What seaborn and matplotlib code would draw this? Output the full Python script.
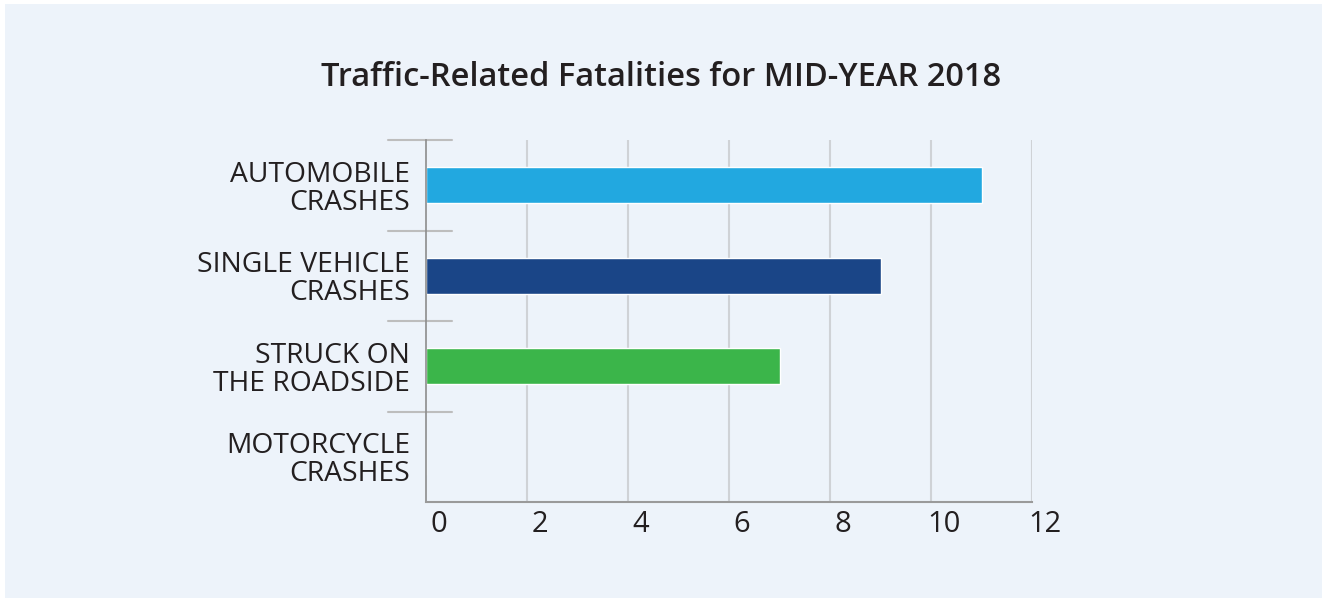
import matplotlib
matplotlib.use("Agg")
import matplotlib.pyplot as plt
import matplotlib.transforms as mtransforms
from matplotlib.patches import Rectangle
import seaborn as sns
import pandas as pd

categories = ["AUTOMOBILE\nCRASHES", "SINGLE VEHICLE\nCRASHES", "STRUCK ON\nTHE ROADSIDE", "MOTORCYCLE\nCRASHES"]
values = [11, 9, 7, 0]
colors = ["#22A8E0", "#1A4587", "#3BB54A", "#F7941D"]
x_ticks = [0, 2, 4, 6, 8, 10, 12]
title = "Traffic-Related Fatalities for MID-YEAR 2018"

sns.set_theme(style="white")
plt.rcParams["font.family"] = ["Open Sans", "DejaVu Sans"]

BG = "#EDF3FA"
W, H = 1322, 602
fig = plt.figure(figsize=(W / 100, H / 100), dpi=100, facecolor="white")
fig.patches.append(Rectangle((5 / W, 4 / H), 1 - 5 / W, 1 - 8 / H, transform=fig.transFigure,
                             facecolor=BG, edgecolor="none", zorder=-10))

ax = fig.add_axes([426 / W, 1 - 502 / H, (1032 - 426) / W, (502 - 140) / H])
ax.set_facecolor(BG)
ax.patch.set_alpha(0)

df = pd.DataFrame({"cat": categories, "val": values})
sns.barplot(data=df, y="cat", x="val", hue="cat", palette=colors, orient="h",
            width=0.4, legend=False, ax=ax, saturation=1)

ax.set_xlim(0, 12)
ax.set_ylim(3.5, -0.5)
ax.set_xticks(x_ticks)
ax.set_xticklabels([])
ax.tick_params(axis="x", length=0)
# x tick labels drawn slightly right of their gridlines, as in the reference
xlab_trans = mtransforms.blended_transform_factory(ax.transData, ax.transAxes) + \
    mtransforms.ScaledTranslation(13 / 100, -8 / 100, fig.dpi_scale_trans)
for t in x_ticks:
    ax.text(t, 0, str(t), transform=xlab_trans, ha="center", va="top",
            fontsize=21, color="#231F20")
ax.tick_params(axis="y", length=0, pad=11.5, labelsize=20.3, labelcolor="#231F20")
for lbl in ax.get_yticklabels():
    lbl.set_linespacing(1.0)
ax.set_xlabel("")
ax.set_ylabel("")

for x in x_ticks[1:]:
    ax.axvline(x, color="#CFD2D6", lw=1.5, zorder=0)

for s in ["top", "right"]:
    ax.spines[s].set_visible(False)
ax.spines["left"].set_color("#8C8C8C")
ax.spines["left"].set_linewidth(1.2)
ax.spines["bottom"].set_color("#9A9A9A")
ax.spines["bottom"].set_linewidth(1.5)

trans = mtransforms.blended_transform_factory(ax.transAxes, ax.transData)
for y in [-0.5, 0.5, 1.5, 2.5]:
    ax.plot([-38 / 606, 26 / 606], [y, y], transform=trans, color="#BDBDBD", lw=1.5,
            clip_on=False, zorder=1)

fig.text(661 / W, 1 - 77 / H, title, ha="center", va="center", fontsize=23.5,
         fontweight="semibold", color="#231F20")

fig.savefig("out.png", dpi=100, facecolor=fig.get_facecolor())
